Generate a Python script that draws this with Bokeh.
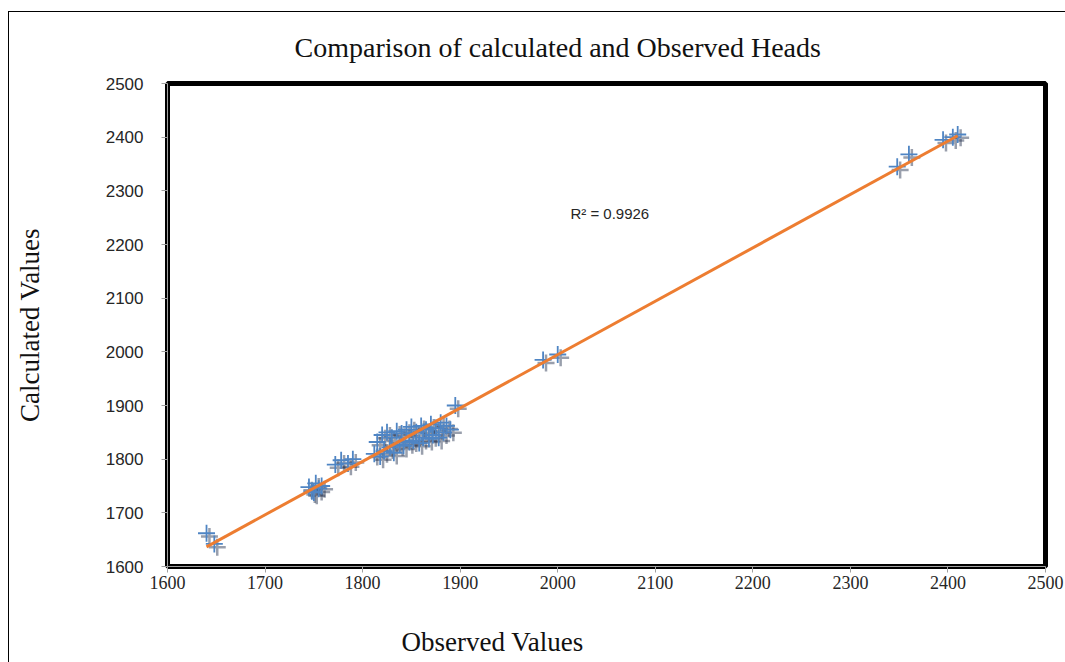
import numpy as np
from bokeh.plotting import figure
from bokeh.models import Label, Range1d, FixedTicker, ColumnDataSource, Title
from bokeh.transform import dodge
from bokeh.embed import file_html
from bokeh.resources import INLINE

title_text = "Comparison of calculated and Observed Heads"
x_label = "Observed Values"
y_label = "Calculated Values"
r2_text = "R\u00b2 = 0.9926"

observed = [1640, 1648, 1745, 1748, 1750, 1752, 1755, 1758, 1772, 1778, 1785, 1790,
            1812, 1815, 1818, 1820, 1822, 1825, 1828, 1830, 1832, 1835, 1838, 1840,
            1842, 1845, 1848, 1850, 1852, 1855, 1858, 1860, 1862, 1865, 1868, 1870,
            1872, 1875, 1878, 1880, 1883, 1886, 1890, 1895, 1985, 2000,
            2348, 2360, 2395, 2405, 2410]
calculated = [1662, 1642, 1748, 1740, 1738, 1755, 1745, 1750, 1790, 1798, 1792, 1800,
              1810, 1832, 1805, 1845, 1815, 1850, 1822, 1840, 1812, 1852, 1828, 1848,
              1825, 1855, 1832, 1860, 1835, 1850, 1830, 1862, 1840, 1855, 1838, 1865,
              1845, 1858, 1840, 1868, 1850, 1862, 1855, 1900, 1985, 1995,
              2345, 2368, 2395, 2400, 2405]

ticks = [1600, 1700, 1800, 1900, 2000, 2100, 2200, 2300, 2400, 2500]

src = ColumnDataSource(dict(x=observed, y=calculated))

p = figure(output_backend="svg", toolbar_location=None,
           x_range=Range1d(1600, 2500), y_range=Range1d(1600, 2500),
           min_border_left=158, min_border_top=71, min_border_right=20, min_border_bottom=80,
           frame_width=878, frame_height=483)
p.styles = {"margin-left": "8px", "margin-top": "11px",
            "border-left": "1px solid #000", "border-top": "1px solid #000"}

p.grid.visible = False
p.outline_line_color = "black"
p.outline_line_width = 5

for ax in (p.xaxis[0], p.yaxis[0]):
    ax.ticker = FixedTicker(ticks=ticks)
    ax.axis_line_color = "#a0a0a0"
    ax.major_tick_line_color = "#a0a0a0"
    ax.major_tick_in = 0
    ax.major_tick_out = 6
    ax.minor_tick_line_color = None
    ax.major_label_text_color = "#262626"

p.xaxis.major_label_text_font = "Liberation Serif"
p.xaxis.major_label_text_font_size = "18px"
p.xaxis.major_label_standoff = 3
p.yaxis.major_label_text_font = "Liberation Sans"
p.yaxis.major_label_text_font_size = "17px"
p.yaxis.major_label_standoff = 18

p.yaxis.axis_label = y_label
p.yaxis.axis_label_text_font = "Liberation Serif"
p.yaxis.axis_label_text_font_size = "27px"
p.yaxis.axis_label_text_font_style = "normal"
p.yaxis.axis_label_text_color = "#111111"
p.yaxis.axis_label_standoff = 58

p.add_layout(Title(text=title_text, align="left", offset=127, standoff=38,
                   vertical_align="top",
                   text_font="Liberation Serif", text_font_size="28px",
                   text_font_style="normal", text_color="#111111"), "above")
p.add_layout(Title(text=x_label, align="left", offset=234, standoff=66,
                   text_font="Liberation Serif", text_font_size="27px",
                   text_font_style="normal", text_color="#111111"), "below")

# shadow layer
p.scatter(x=dodge("x", 3, range=p.x_range), y=dodge("y", -6, range=p.y_range), source=src,
          marker="cross", size=17, line_width=2.5, line_color="#1c2a48", line_alpha=0.45)
p.scatter(x="x", y="y", source=src, marker="cross", size=17, line_width=1.8,
          line_color="#4f85c4")

# linear trend line
b, a = np.polyfit(observed, calculated, 1)
xs = [min(observed), max(observed)]
p.line(x=xs, y=[a + b * v for v in xs], line_color="#ED7D31", line_width=3)

p.add_layout(Label(x=2013, y=2258, text=r2_text, text_font="Liberation Sans",
                   text_font_size="15px", text_color="#262626", text_baseline="middle"))

open("out.html", "w").write(file_html(p, INLINE))
